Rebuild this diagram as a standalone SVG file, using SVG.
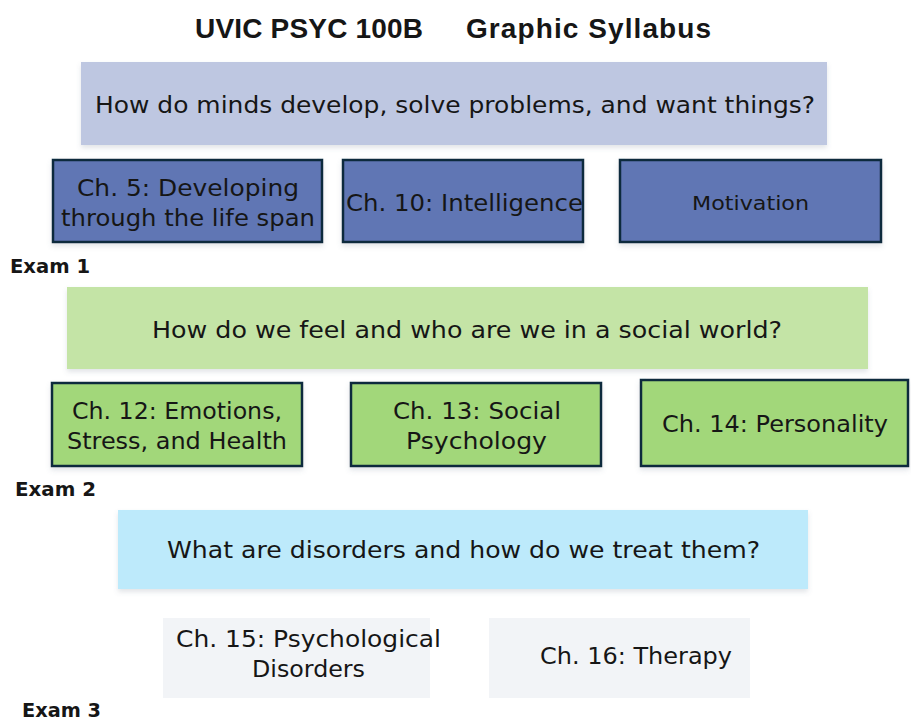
<svg xmlns="http://www.w3.org/2000/svg" width="911" height="723" viewBox="0 0 911 723">
  <defs>
    <filter id="soft" x="-5%" y="-10%" width="110%" height="130%">
      <feDropShadow dx="0" dy="3" stdDeviation="2.5" flood-color="#5a6a80" flood-opacity="0.18"/>
    </filter>
  </defs>
  <style>
    text { font-family: "DejaVu Sans", "Liberation Sans", sans-serif; fill: #161616; }
    .title { font-family: "Liberation Sans", Arial, sans-serif; font-size: 28px; font-weight: bold; }
    .exam { font-size: 20px; font-weight: bold; }
    .q { font-size: 23px; }
    .ch { font-size: 23px; }
    .small { font-size: 19px; }
    .band1 { fill: #bec7e1; }
    .band2 { fill: #c4e4a6; }
    .band3 { fill: #bdeafb; }
    .blue { fill: #6176b4; stroke: #112a3c; stroke-width: 2.5; }
    .green { fill: #a2d77a; stroke: #112a3c; stroke-width: 2.5; }
    .grey { fill: #f2f4f7; }
  </style>

  <!-- heading -->
  <g id="title">
    <text class="title" x="195" y="38" textLength="228">UVIC PSYC 100B</text>
    <text class="title" x="466" y="38" textLength="245">Graphic Syllabus</text>
  </g>

  <!-- unit 1 -->
  <g id="q1">
    <rect class="band1" x="81" y="62" width="746" height="83" filter="url(#soft)"/>
    <text class="q" x="95" y="113" textLength="720" lengthAdjust="spacingAndGlyphs">How do minds develop, solve problems, and want things?</text>
  </g>
  <g id="ch5">
    <rect class="blue" x="53" y="160" width="269" height="82" filter="url(#soft)"/>
    <text class="ch" x="77" y="196" textLength="222" lengthAdjust="spacingAndGlyphs">Ch. 5: Developing</text>
    <text class="ch" x="61" y="226" textLength="254" lengthAdjust="spacingAndGlyphs">through the life span</text>
  </g>
  <g id="ch10">
    <rect class="blue" x="343" y="160" width="240" height="82" filter="url(#soft)"/>
    <text class="ch" x="346" y="211" textLength="237" lengthAdjust="spacingAndGlyphs">Ch. 10: Intelligence</text>
  </g>
  <g id="motivation">
    <rect class="blue" x="620" y="160" width="261" height="82" filter="url(#soft)"/>
    <text class="small" x="692" y="210" textLength="117" lengthAdjust="spacingAndGlyphs">Motivation</text>
  </g>
  <g id="exam1">
    <text class="exam" x="10" y="273" textLength="80" lengthAdjust="spacingAndGlyphs">Exam 1</text>
  </g>

  <!-- unit 2 -->
  <g id="q2">
    <rect class="band2" x="67" y="287" width="801" height="82" filter="url(#soft)"/>
    <text class="q" x="152" y="338" textLength="630" lengthAdjust="spacingAndGlyphs">How do we feel and who are we in a social world?</text>
  </g>
  <g id="ch12">
    <rect class="green" x="52" y="383" width="250" height="83" filter="url(#soft)"/>
    <text class="ch" x="72" y="419" textLength="210" lengthAdjust="spacingAndGlyphs">Ch. 12: Emotions,</text>
    <text class="ch" x="67" y="449" textLength="220" lengthAdjust="spacingAndGlyphs">Stress, and Health</text>
  </g>
  <g id="ch13">
    <rect class="green" x="351" y="383" width="250" height="83" filter="url(#soft)"/>
    <text class="ch" x="393" y="419" textLength="168" lengthAdjust="spacingAndGlyphs">Ch. 13: Social</text>
    <text class="ch" x="406" y="449" textLength="141" lengthAdjust="spacingAndGlyphs">Psychology</text>
  </g>
  <g id="ch14">
    <rect class="green" x="641" y="380" width="267" height="86" filter="url(#soft)"/>
    <text class="ch" x="662" y="432" textLength="226" lengthAdjust="spacingAndGlyphs">Ch. 14: Personality</text>
  </g>
  <g id="exam2">
    <text class="exam" x="15" y="496" textLength="81" lengthAdjust="spacingAndGlyphs">Exam 2</text>
  </g>

  <!-- unit 3 -->
  <g id="q3">
    <rect class="band3" x="118" y="510" width="690" height="79" filter="url(#soft)"/>
    <text class="q" x="167" y="558" textLength="593" lengthAdjust="spacingAndGlyphs">What are disorders and how do we treat them?</text>
  </g>
  <g id="ch15">
    <rect class="grey" x="163" y="618" width="267" height="80"/>
    <text class="ch" x="176" y="647" textLength="265" lengthAdjust="spacingAndGlyphs">Ch. 15: Psychological</text>
    <text class="ch" x="252" y="677" textLength="113" lengthAdjust="spacingAndGlyphs">Disorders</text>
  </g>
  <g id="ch16">
    <rect class="grey" x="489" y="618" width="261" height="80"/>
    <text class="ch" x="540" y="664" textLength="192" lengthAdjust="spacingAndGlyphs">Ch. 16: Therapy</text>
  </g>
  <g id="exam3">
    <text class="exam" x="22" y="717" textLength="79" lengthAdjust="spacingAndGlyphs">Exam 3</text>
  </g>

  <!-- no connectors in this layout -->
  <g id="connectors"/>
</svg>
